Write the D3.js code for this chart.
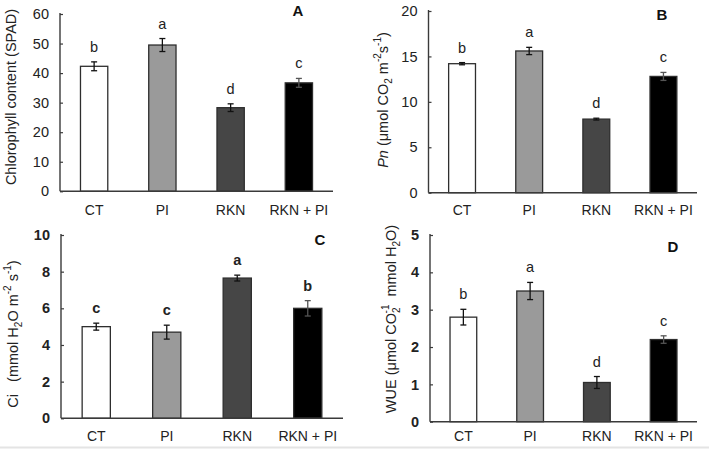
<!DOCTYPE html>
<html>
<head>
<meta charset="utf-8">
<script src="https://cdn.jsdelivr.net/npm/d3@7"></script>
<style>
  html, body { margin: 0; padding: 0; background: #fff; }
  svg { display: block; font-family: "Liberation Sans", Arial, sans-serif; }
</style>
</head>
<body>
<svg id="chart" width="709" height="449"></svg>
<script>
// ---- data ----
const categories = ["CT", "PI", "RKN", "RKN + PI"];
const barColors = ["#ffffff", "#9a9a9a", "#464646", "#000000"];

const chlorophyll = [42.3, 49.5, 28.3, 36.7];
const chlorophyllErr = [1.5, 2.2, 1.3, 1.5];
const chlorophyllLetters = ["b", "a", "d", "c"];
const chlorophyllTicks = [0, 10, 20, 30, 40, 50, 60];

const pn = [14.2, 15.6, 8.1, 12.8];
const pnErr = [0.12, 0.4, 0.1, 0.44];
const pnLetters = ["b", "a", "d", "c"];
const pnTicks = [0, 5, 10, 15, 20];

const ci = [5.0, 4.7, 7.65, 6.0];
const ciErr = [0.19, 0.38, 0.16, 0.42];
const ciLetters = ["c", "c", "a", "b"];
const ciTicks = [0, 2, 4, 6, 8, 10];

const wue = [2.8, 3.5, 1.05, 2.2];
const wueErr = [0.21, 0.23, 0.16, 0.1];
const wueLetters = ["b", "a", "d", "c"];
const wueTicks = [0, 1, 2, 3, 4, 5];

const panelLabels = ["A", "B", "C", "D"];

// ---- layout ----
const svg = d3.select("#chart");
svg.append("rect").attr("width", 709).attr("height", 449).attr("fill", "#fff");
svg.append("line").attr("x1", 0).attr("x2", 709).attr("y1", 447.5).attr("y2", 447.5)
  .attr("stroke", "#e4e4e4").attr("stroke-width", 2);

const panels = [
  { values: chlorophyll, err: chlorophyllErr, letters: chlorophyllLetters, ticks: chlorophyllTicks,
    x0: 60, x1: 333, yTop: 14, yBot: 191.3, lx: 298, ly: 16,
    boldTicks: false, boldLetters: false, titleX: 12, titleY: 97, catY: 215, title: panelLabels[0] },
  { values: pn, err: pnErr, letters: pnLetters, ticks: pnTicks,
    x0: 428.5, x1: 697, yTop: 11, yBot: 192.7, lx: 662, ly: 20,
    boldTicks: false, boldLetters: false, titleX: 384, titleY: 100, catY: 215, title: panelLabels[1] },
  { values: ci, err: ciErr, letters: ciLetters, ticks: ciTicks,
    x0: 61, x1: 343, yTop: 235, yBot: 418.3, lx: 320, ly: 245,
    boldTicks: true, boldLetters: true, titleX: 14, titleY: 334, catY: 441, title: panelLabels[2] },
  { values: wue, err: wueErr, letters: wueLetters, ticks: wueTicks,
    x0: 430, x1: 697, yTop: 235, yBot: 421.7, lx: 673, ly: 252,
    boldTicks: true, boldLetters: false, titleX: 392, titleY: 319, catY: 441, title: panelLabels[3] }
];

const axisColor = "#3a3a3a";

panels.forEach((p) => {
  const g = svg.append("g");
  const x = d3.scaleBand().domain(categories).range([p.x0, p.x1])
    .paddingInner(0.6).paddingOuter(0.3);
  const y = d3.scaleLinear().domain([p.ticks[0], p.ticks[p.ticks.length - 1]])
    .range([p.yBot, p.yTop]);

  // bars
  g.selectAll("rect.bar").data(categories).enter().append("rect")
    .attr("class", "bar")
    .attr("x", d => x(d))
    .attr("width", x.bandwidth())
    .attr("y", (d, i) => y(p.values[i]))
    .attr("height", (d, i) => y(0) - y(p.values[i]))
    .attr("fill", (d, i) => barColors[i])
    .attr("stroke", "#2e2e2e")
    .attr("stroke-width", 1.3);

  // error bars
  const eg = g.selectAll("g.err").data(categories).enter().append("g")
    .attr("stroke", (d, i) => i === 3 ? "#555" : "#111")
    .attr("stroke-width", 1.3);
  const cx = d => x(d) + x.bandwidth() / 2;
  eg.append("line")
    .attr("x1", cx).attr("x2", cx)
    .attr("y1", (d, i) => y(p.values[i] - p.err[i]))
    .attr("y2", (d, i) => y(p.values[i] + p.err[i]));
  eg.append("line")
    .attr("x1", d => cx(d) - 3).attr("x2", d => cx(d) + 3)
    .attr("y1", (d, i) => y(p.values[i] + p.err[i]))
    .attr("y2", (d, i) => y(p.values[i] + p.err[i]));
  eg.append("line")
    .attr("x1", d => cx(d) - 3).attr("x2", d => cx(d) + 3)
    .attr("y1", (d, i) => y(p.values[i] - p.err[i]))
    .attr("y2", (d, i) => y(p.values[i] - p.err[i]));

  // letters
  g.selectAll("text.letter").data(categories).enter().append("text")
    .attr("x", cx)
    .attr("y", (d, i) => y(p.values[i] + p.err[i]) - 10)
    .attr("text-anchor", "middle")
    .attr("font-size", 14.5)
    .attr("font-weight", p.boldLetters ? "bold" : "normal")
    .attr("fill", "#222")
    .text((d, i) => p.letters[i]);

  // y axis
  const yAxis = d3.axisLeft(y).tickValues(p.ticks).tickSizeInner(-3).tickSizeOuter(0)
    .tickPadding(11).tickFormat(d3.format("d"));
  const ya = g.append("g").attr("transform", `translate(${p.x0},0)`).call(yAxis);
  ya.select(".domain").attr("stroke", axisColor).attr("stroke-width", 1.4)
    .attr("d", `M0,${p.yTop - 1}V${p.yBot}`);
  ya.selectAll(".tick line").attr("stroke", axisColor).attr("stroke-width", 1.2);
  ya.selectAll(".tick text").attr("font-size", 14.5).attr("fill", "#222")
    .attr("font-family", "Liberation Sans, Arial, sans-serif")
    .attr("font-weight", p.boldTicks ? "bold" : "normal");

  // x axis
  const xAxis = d3.axisBottom(x).tickSize(0).tickPadding(0);
  const xa = g.append("g").attr("transform", `translate(0,${p.yBot})`).call(xAxis);
  xa.select(".domain").attr("stroke", axisColor).attr("stroke-width", 1.4)
    .attr("d", `M${p.x0},0H${p.x1}`);
  xa.selectAll(".tick text").attr("font-size", 14).attr("fill", "#222")
    .attr("font-family", "Liberation Sans, Arial, sans-serif")
    .attr("dy", null)
    .attr("y", p.catY - p.yBot);

  // panel label
  g.append("text").attr("x", p.lx).attr("y", p.ly)
    .attr("text-anchor", "middle").attr("font-size", 15).attr("font-weight", "bold")
    .attr("fill", "#111").text(p.title);
});

// ---- y axis titles ----
const TS = 14.5, SS = 10;
function yTitle(cx, cy, build) {
  const t = svg.append("text")
    .attr("transform", `translate(${cx},${cy}) rotate(-90)`)
    .attr("text-anchor", "middle")
    .attr("dominant-baseline", "middle")
    .attr("font-size", TS)
    .attr("fill", "#222");
  build(t);
}
yTitle(panels[0].titleX, panels[0].titleY, t => t.text("Chlorophyll content (SPAD)"));
yTitle(panels[1].titleX, panels[1].titleY, t => {
  t.append("tspan").attr("font-style", "italic").text("Pn");
  t.append("tspan").text(" (μmol CO");
  t.append("tspan").attr("font-size", SS).attr("baseline-shift", "sub").text("2");
  t.append("tspan").text(" m");
  t.append("tspan").attr("font-size", SS).attr("baseline-shift", "super").text("-2");
  t.append("tspan").text("s");
  t.append("tspan").attr("font-size", SS).attr("baseline-shift", "super").text("-1");
  t.append("tspan").text(")");
});
yTitle(panels[2].titleX, panels[2].titleY, t => {
  t.append("tspan").text("Ci\u00a0\u00a0 (mmol H");
  t.append("tspan").attr("font-size", SS).attr("baseline-shift", "sub").text("2");
  t.append("tspan").text("O m");
  t.append("tspan").attr("font-size", SS).attr("baseline-shift", "super").text("-2");
  t.append("tspan").text(" s");
  t.append("tspan").attr("font-size", SS).attr("baseline-shift", "super").text("-1");
  t.append("tspan").text(")");
});
yTitle(panels[3].titleX, panels[3].titleY, t => {
  t.append("tspan").text("WUE (μmol CO");
  t.append("tspan").attr("font-size", SS).attr("baseline-shift", "sub").text("2");
  t.append("tspan").attr("font-size", SS).attr("baseline-shift", "super").attr("dx", -6).text("-1");
  t.append("tspan").text("\u00a0 mmol H");
  t.append("tspan").attr("font-size", SS).attr("baseline-shift", "sub").text("2");
  t.append("tspan").text("O)");
});
</script>
</body>
</html>
